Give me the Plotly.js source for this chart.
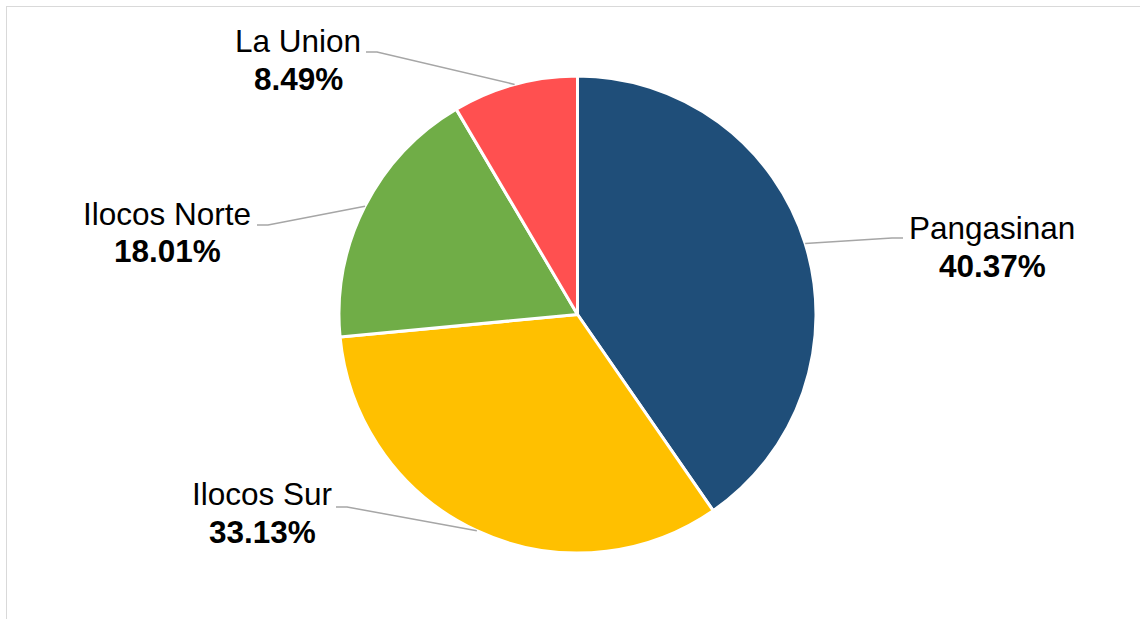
<!DOCTYPE html>
<html>
<head>
<meta charset="utf-8">
<script src="https://cdn.plot.ly/plotly-3.0.1.min.js"></script>
<style>
  html, body { margin: 0; padding: 0; background: #ffffff; overflow: hidden; }
  #frame { position: absolute; left: 6px; top: 6px; width: 1200px; height: 700px;
           border-left: 1.5px solid #d9d9d9; border-top: 1.5px solid #d9d9d9; }
  #chart { position: absolute; left: 0; top: 0; width: 1140px; height: 619px; }
</style>
</head>
<body>
<div id="frame"></div>
<div id="chart"></div>
<script>
// ---- data ----
const provinces = ["Pangasinan", "Ilocos Sur", "Ilocos Norte", "La Union"];
const shares = [40.37, 33.13, 18.01, 8.49];
const sliceColors = ["#1F4E79", "#FFC000", "#70AD47", "#FF5050"];

// ---- layout constants (pixels) ----
const W = 1140, H = 619;
const M = { l: 100, r: 85, t: 76, b: 66 };
const pw = W - M.l - M.r, ph = H - M.t - M.b;
const R = Math.min(pw, ph) / 2;

// label placement (pixel centers of name / value lines) and leader start points
const labelPos = {
  "Pangasinan":   { x: 992, yName: 228, yVal: 266, lx: 903, ly: 238, side: 1 },
  "Ilocos Sur":   { x: 262, yName: 494, yVal: 532, lx: 336, ly: 507, side: -1 },
  "Ilocos Norte": { x: 167, yName: 214, yVal: 251, lx: 257, ly: 225, side: -1 },
  "La Union":     { x: 298, yName: 41,  yVal: 79,  lx: 366, ly: 52,  side: -1 }
};

const px2x = p => (p - M.l) / pw;
const px2y = p => 1 - (p - M.t) / ph;

const FONT = "Liberation Sans, Arial, sans-serif";
const total = shares.reduce((a, b) => a + b, 0);
const annotations = [];
const shapes = [];
let cum = 0;
provinces.forEach((name, i) => {
  const mid = (cum + shares[i] / 2) / total * 2 * Math.PI;
  cum += shares[i];
  const ex = 0.5 + (R / pw) * Math.sin(mid);
  const ey = 0.5 + (R / ph) * Math.cos(mid);
  const lp = labelPos[name];
  const bendX = lp.lx - lp.side * 11;
  shapes.push({
    type: "path", xref: "paper", yref: "paper",
    path: `M ${px2x(lp.lx)} ${px2y(lp.ly)} L ${px2x(bendX)} ${px2y(lp.ly)} L ${ex} ${ey}`,
    line: { color: "#a6a6a6", width: 1.5 }
  });
  annotations.push({
    xref: "paper", yref: "paper", x: px2x(lp.x), y: px2y(lp.yName),
    xanchor: "center", yanchor: "middle", showarrow: false,
    text: name, font: { family: FONT, size: 31.5, color: "#000000" }
  });
  annotations.push({
    xref: "paper", yref: "paper", x: px2x(lp.x), y: px2y(lp.yVal),
    xanchor: "center", yanchor: "middle", showarrow: false,
    text: "<b>" + shares[i].toFixed(2) + "%</b>",
    font: { family: FONT, size: 31.5, color: "#000000" }
  });
});

const trace = {
  type: "pie",
  labels: provinces,
  values: shares,
  sort: false,
  direction: "clockwise",
  rotation: 0,
  textinfo: "none",
  hoverinfo: "label+percent",
  marker: { colors: sliceColors, line: { color: "#ffffff", width: 3 } },
  showlegend: false
};

const layout = {
  width: W, height: H,
  margin: M,
  paper_bgcolor: "rgba(0,0,0,0)",
  plot_bgcolor: "rgba(0,0,0,0)",
  showlegend: false,
  annotations: annotations,
  shapes: shapes
};

Plotly.newPlot("chart", [trace], layout, { displayModeBar: false, staticPlot: true });
</script>
</body>
</html>
